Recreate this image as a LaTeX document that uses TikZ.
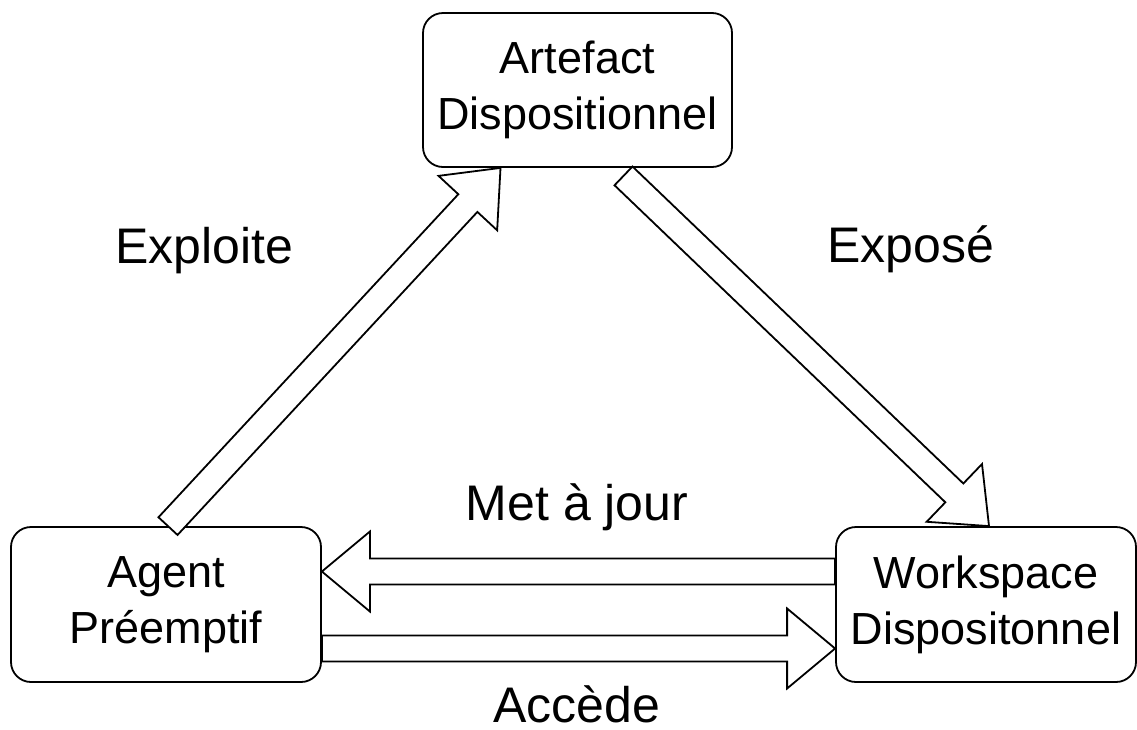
\documentclass[tikz,border=0pt]{standalone}
\usepackage{fontspec}
\setmainfont{Liberation Sans}
\usetikzlibrary{calc}
\tikzset{
  box/.style={draw, line width=1.8pt, rounded corners=20pt, fill=white,
    minimum width=#1, minimum height=155pt, inner sep=0pt, align=center,
    font=\fontsize{45}{56}\selectfont,
    execute at begin node={\rule{0pt}{37pt}}},
  lbl/.style={anchor=base, inner sep=0pt, font=\fontsize{50}{60}\selectfont},
  flex/.style={draw, line width=1.8pt, line join=miter, fill=white}
}
\newcommand\flexarr[2]{%
  \coordinate (fa-hb) at ($(#2)!48pt!(#1)$);
  \draw[flex] ($(#1)!13pt!90:(#2)$) -- ($(fa-hb)!13pt!90:(#2)$)
    -- ($(fa-hb)!40pt!90:(#2)$) -- (#2) -- ($(fa-hb)!40pt!-90:(#2)$)
    -- ($(fa-hb)!13pt!-90:(#2)$) -- ($(#1)!13pt!-90:(#2)$) -- cycle;
}
\begin{document}
\begin{tikzpicture}[x=1pt, y=-1pt]
  \useasboundingbox (0,0) rectangle (1137,729);
  % boxes
  \node[box=309pt, minimum height=154pt] (art) at (577.5,90) {Artefact\\Dispositionnel};
  \node[box=310pt] (agent) at (166,604.5) {Agent\\Préemptif};
  \node[box=300pt] (ws) at (986,604.5) {Workspace\\Dispositonnel};
  % arrow end points
  \coordinate (exT) at ($(agent.north)+(2,0)$);
  \coordinate (exH) at ($(art.south)+(-77,0)$);
  \coordinate (epT) at ($(art.south)+(46,8)$);
  \coordinate (epH) at ($(ws.north)+(3,0)$);
  \coordinate (mjT) at ($(ws.west)+(0,-33)$);
  \coordinate (mjH) at ($(agent.east)+(0,-33)$);
  \coordinate (acT) at ($(agent.east)+(0,44)$);
  \coordinate (acH) at ($(ws.west)+(0,44)$);
  % arrows
  \flexarr{exT}{exH}
  \flexarr{epT}{epH}
  \flexarr{mjT}{mjH}
  \flexarr{acT}{acH}
  % labels
  \node[lbl] (lex) at (204,263) {Exploite};
  \node[lbl] (lep) at (911,262) {Exposé};
  \node[lbl] (lmj) at (577,520.5) {Met à jour};
  \node[lbl] (lac) at (577,722) {Accède};
\end{tikzpicture}
\end{document}
